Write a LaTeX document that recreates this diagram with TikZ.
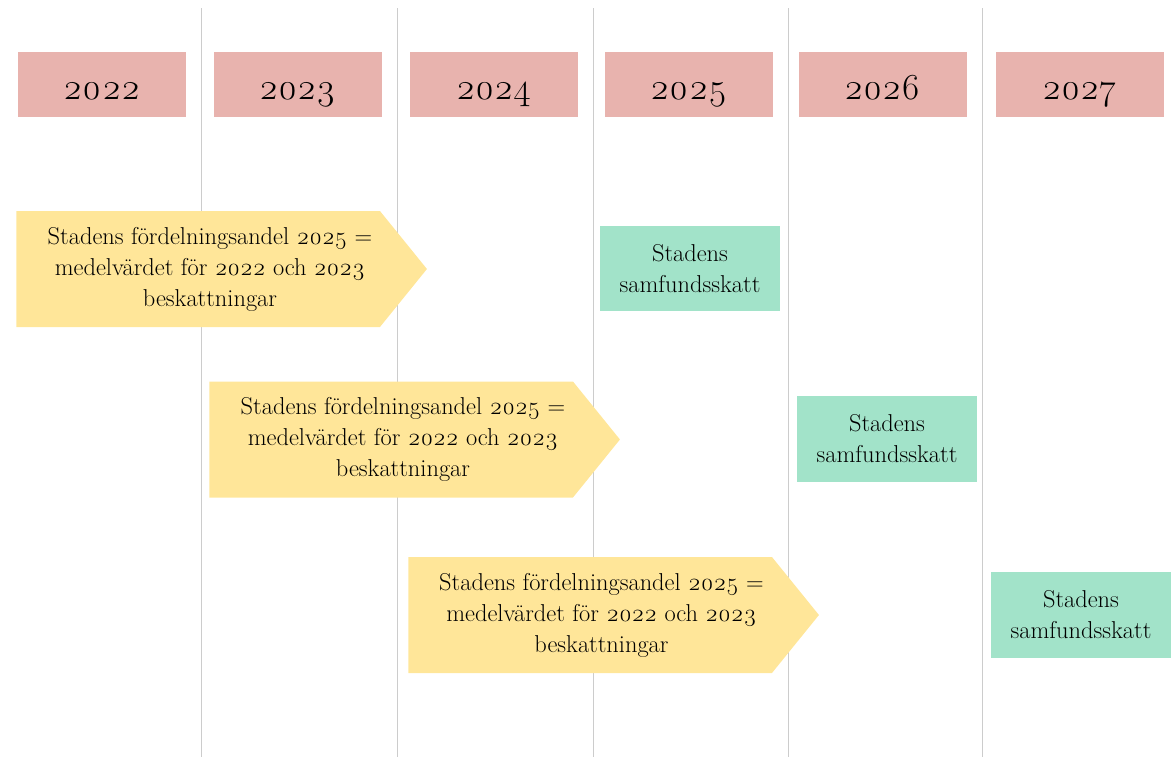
\documentclass[tikz,border=0pt]{standalone}
\usepackage{fontspec}
\setmainfont{Latin Modern Roman}[Numbers=OldStyle]
\usepackage{tikz}
\usetikzlibrary{shapes.symbols, positioning}

\definecolor{yearred}{HTML}{E8B3AE}
\definecolor{shareyellow}{HTML}{FFE699}
\definecolor{taxgreen}{HTML}{A2E3C9}
\definecolor{gridgray}{HTML}{CCCCCC}

\begin{document}
\begin{tikzpicture}[
    x=0.75pt, y=-0.75pt,
    year/.style={rectangle, fill=yearred, minimum width=126pt, minimum height=49pt, inner sep=0pt, text height=22pt, text depth=0pt, font=\fontsize{27.5}{30}\selectfont},
    arrowbox/.style={signal, signal to=east, signal pointer angle=102, fill=shareyellow, minimum width=308pt, minimum height=87pt, inner sep=0pt, anchor=west},
    share/.style={align=center, inner sep=0pt, font=\fontsize{18.3}{23.3}\selectfont},
    tax/.style={rectangle, fill=taxgreen, minimum width=135pt, minimum height=64pt, inner sep=0pt, align=center, font=\fontsize{18.3}{23.3}\selectfont},
    grid/.style={gridgray, line width=0.7pt}
]
\useasboundingbox (0,0) rectangle (1176,757);

% Year separators
\draw[grid] (201,8) -- (201,757);
\draw[grid] (397,8) -- (397,757);
\draw[grid] (593,8) -- (593,757);
\draw[grid] (788,8) -- (788,757);
\draw[grid] (982,8) -- (982,757);

% Row 0: Years
\node[year] (y2022) at (102,84.5) {2022};
\node[year] (y2023) at (298,84.5) {2023};
\node[year] (y2024) at (494,84.5) {2024};
\node[year] (y2025) at (689,84.5) {2025};
\node[year] (y2026) at (882.5,84.5) {2026};
\node[year] (y2027) at (1080,84.5) {2027};

% Row 1: Share for 2025
\node[arrowbox] (arrow1) at (16,269) {};
\node[share] (share1) at (210,269) {Stadens fördelningsandel 2025 =\\medelvärdet för 2022 och 2023\\beskattningar};
\node[tax] (tax1) at (690,268.5) {Stadens\\samfundsskatt};

% Row 2
\node[arrowbox] (arrow2) at (209,439.5) {};
\node[share] (share2) at (403,439.5) {Stadens fördelningsandel 2025 =\\medelvärdet för 2022 och 2023\\beskattningar};
\node[tax] (tax2) at (887,439) {Stadens\\samfundsskatt};

% Row 3
\node[arrowbox] (arrow3) at (408,615) {};
\node[share] (share3) at (601.5,615) {Stadens fördelningsandel 2025 =\\medelvärdet för 2022 och 2023\\beskattningar};
\node[tax] (tax3) at (1081,615) {Stadens\\samfundsskatt};

\end{tikzpicture}
\end{document}
